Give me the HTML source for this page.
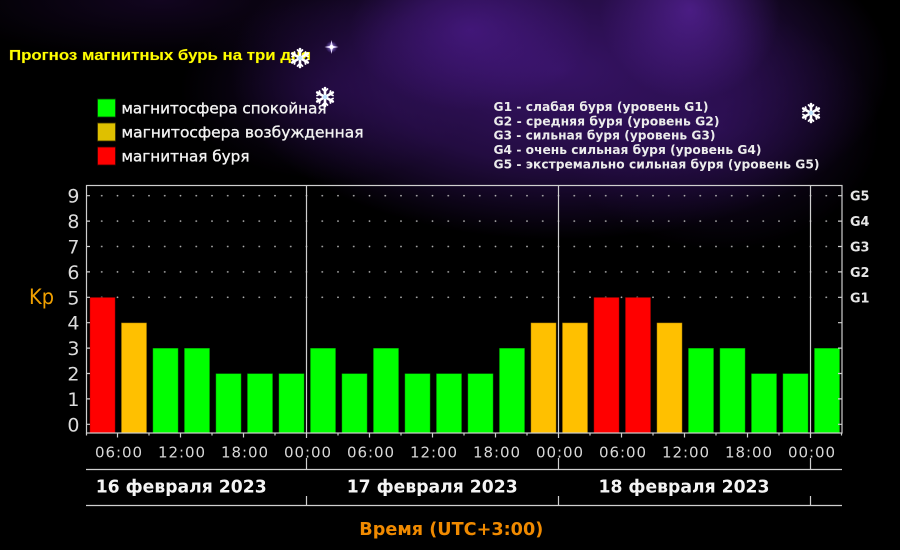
<!DOCTYPE html>
<html>
<head>
<meta charset="utf-8">
<style>
html,body{margin:0;padding:0;background:#000;}
#wrap{position:relative;width:900px;height:550px;overflow:hidden;background:#000;}
#neb{position:absolute;left:0;top:0;width:900px;height:550px;
background:
radial-gradient(ellipse 90px 90px at 690px 10px, rgba(100,40,175,0.6), rgba(100,40,175,0) 100%),
radial-gradient(ellipse 120px 80px at 470px 30px, rgba(85,30,155,0.55), rgba(85,30,155,0) 100%),
radial-gradient(ellipse 330px 170px at 560px 70px, rgba(58,20,108,0.95), rgba(58,20,108,0.6) 55%, rgba(58,20,108,0) 100%),
radial-gradient(ellipse 160px 120px at 720px 130px, rgba(45,15,85,0.6), rgba(45,15,85,0) 100%),
radial-gradient(ellipse 150px 90px at 330px 90px, rgba(40,12,75,0.55), rgba(40,12,75,0) 100%),
radial-gradient(ellipse 220px 60px at 160px 0px, rgba(40,12,70,0.45), rgba(40,12,70,0) 100%);
}
svg{position:absolute;left:0;top:0;}
</style>
</head>
<body>
<div id="wrap">
<div id="neb"></div>
<svg width="900" height="550" viewBox="0 0 900 550" xmlns="http://www.w3.org/2000/svg">
<defs>
<pattern id="dots" patternUnits="userSpaceOnUse" x="78.125" y="183" width="15.75" height="25.4">
<circle cx="7.875" cy="12.7" r="0.9" fill="#b0b0b0"/>
</pattern>
<radialGradient id="glow">
<stop offset="0" stop-color="#d8c8ff" stop-opacity="0.9"/>
<stop offset="1" stop-color="#8060ff" stop-opacity="0"/>
</radialGradient>
<g id="flake" stroke="#fff" stroke-width="2.6" stroke-linecap="round" fill="none">
<line x1="0" y1="-9" x2="0" y2="9"/>
<line x1="-7.8" y1="-4.5" x2="7.8" y2="4.5"/>
<line x1="-7.8" y1="4.5" x2="7.8" y2="-4.5"/>
<path d="M-2.5,-8 L0,-5.5 L2.5,-8 M-2.5,8 L0,5.5 L2.5,8" stroke-width="1.8"/>
<path d="M-8,-1.5 L-5,-3 L-5.5,-6 M8,1.5 L5,3 L5.5,6 M-8,1.5 L-5,3 L-5.5,6 M8,-1.5 L5,-3 L5.5,-6" stroke-width="1.8"/>
<circle cx="0" cy="0" r="2.2" fill="#bfe4ff" stroke="none"/>
</g>
</defs>

<!-- title -->
<text x="9" y="60" font-family="Liberation Sans, sans-serif" font-weight="bold" font-size="15" fill="#ffff00" stroke="#4a3a00" stroke-width="0.6" paint-order="stroke" textLength="302" lengthAdjust="spacingAndGlyphs">Прогноз магнитных бурь на три дня</text>

<!-- star -->
<g transform="translate(331.5,47)">
<circle r="6" fill="url(#glow)"/>
<path d="M0,-7 L1.2,-1.2 L7,0 L1.2,1.2 L0,7 L-1.2,1.2 L-7,0 L-1.2,-1.2 Z" fill="#e8dcff"/>
<circle r="2" fill="#fff"/>
</g>

<!-- legend -->
<rect x="97.5" y="99" width="18" height="18" fill="#00ff00" stroke="#0a3a0a" stroke-width="0.8"/>
<rect x="97.5" y="123" width="18" height="18" fill="#dfc000" stroke="#3a3000" stroke-width="0.8"/>
<rect x="97.5" y="147" width="18" height="18" fill="#ff0000" stroke="#3a0000" stroke-width="0.8"/>
<g font-family="DejaVu Sans, sans-serif" font-size="15.5" fill="#f2f2f2" stroke="#f2f2f2" stroke-width="0.35">
<text x="121.5" y="113.5" textLength="205" lengthAdjust="spacingAndGlyphs">магнитосфера спокойная</text>
<text x="121.5" y="137.5" textLength="242" lengthAdjust="spacingAndGlyphs">магнитосфера возбужденная</text>
<text x="121.5" y="161.5" textLength="128" lengthAdjust="spacingAndGlyphs">магнитная буря</text>
</g>

<!-- G list -->
<g font-family="DejaVu Sans, sans-serif" font-weight="bold" font-size="12" fill="#ececec">
<text x="493.5" y="111" textLength="215" lengthAdjust="spacingAndGlyphs">G1 - слабая буря (уровень G1)</text>
<text x="493.5" y="125.3" textLength="226" lengthAdjust="spacingAndGlyphs">G2 - средняя буря (уровень G2)</text>
<text x="493.5" y="139.6" textLength="222" lengthAdjust="spacingAndGlyphs">G3 - сильная буря (уровень G3)</text>
<text x="493.5" y="154" textLength="268" lengthAdjust="spacingAndGlyphs">G4 - очень сильная буря (уровень G4)</text>
<text x="493.5" y="168.5" textLength="326" lengthAdjust="spacingAndGlyphs">G5 - экстремально сильная буря (уровень G5)</text>
</g>

<!-- snowflakes -->
<use href="#flake" transform="translate(300,58)"/>
<use href="#flake" transform="translate(325,97)"/>
<use href="#flake" transform="translate(811,113)"/>

<!-- dotted grid -->
<rect x="94" y="190" width="745" height="112" fill="url(#dots)"/>

<!-- bars -->
<g stroke="rgba(0,0,0,0.35)" stroke-width="1">
<rect x="89.75" y="297.3" width="25.5" height="135.7" fill="#ff0000"/>
<rect x="121.25" y="322.7" width="25.5" height="110.3" fill="#ffc000"/>
<rect x="152.75" y="348.1" width="25.5" height="84.9" fill="#00ff00"/>
<rect x="184.25" y="348.1" width="25.5" height="84.9" fill="#00ff00"/>
<rect x="215.75" y="373.5" width="25.5" height="59.5" fill="#00ff00"/>
<rect x="247.25" y="373.5" width="25.5" height="59.5" fill="#00ff00"/>
<rect x="278.75" y="373.5" width="25.5" height="59.5" fill="#00ff00"/>

<rect x="310.25" y="348.1" width="25.5" height="84.9" fill="#00ff00"/>
<rect x="341.75" y="373.5" width="25.5" height="59.5" fill="#00ff00"/>
<rect x="373.25" y="348.1" width="25.5" height="84.9" fill="#00ff00"/>
<rect x="404.75" y="373.5" width="25.5" height="59.5" fill="#00ff00"/>
<rect x="436.25" y="373.5" width="25.5" height="59.5" fill="#00ff00"/>
<rect x="467.75" y="373.5" width="25.5" height="59.5" fill="#00ff00"/>
<rect x="499.25" y="348.1" width="25.5" height="84.9" fill="#00ff00"/>
<rect x="530.75" y="322.7" width="25.5" height="110.3" fill="#ffc000"/>

<rect x="562.25" y="322.7" width="25.5" height="110.3" fill="#ffc000"/>
<rect x="593.75" y="297.3" width="25.5" height="135.7" fill="#ff0000"/>
<rect x="625.25" y="297.3" width="25.5" height="135.7" fill="#ff0000"/>
<rect x="656.75" y="322.7" width="25.5" height="110.3" fill="#ffc000"/>
<rect x="688.25" y="348.1" width="25.5" height="84.9" fill="#00ff00"/>
<rect x="719.75" y="348.1" width="25.5" height="84.9" fill="#00ff00"/>
<rect x="751.25" y="373.5" width="25.5" height="59.5" fill="#00ff00"/>
<rect x="782.75" y="373.5" width="25.5" height="59.5" fill="#00ff00"/>

<rect x="814.25" y="348.1" width="25.5" height="84.9" fill="#00ff00"/>
</g>

<!-- frame and dividers -->
<g stroke="#cfcfcf" stroke-width="1.2" fill="none">
<rect x="86.5" y="185.5" width="755.5" height="247.5"/>
<line x1="306.5" y1="185" x2="306.5" y2="438"/>
<line x1="558.5" y1="185" x2="558.5" y2="438"/>
<line x1="810.5" y1="185" x2="810.5" y2="438"/>
<path d="M86,424.3h4M86,398.9h4M86,373.5h4M86,348.1h4M86,322.7h4M86,297.3h4M86,271.9h4M86,246.5h4M86,221.1h4M86,195.7h4"/>
<path d="M842,424.3h-4M842,398.9h-4M842,373.5h-4M842,348.1h-4M842,322.7h-4M842,297.3h-4M842,271.9h-4M842,246.5h-4M842,221.1h-4M842,195.7h-4"/>
<path d="M117.5,433v4.5M180.5,433v4.5M243.5,433v4.5M369.5,433v4.5M432.5,433v4.5M495.5,433v4.5M621.5,433v4.5M684.5,433v4.5M747.5,433v4.5"/>
<path d="M86.5,433v2.5M149,433v2.5M212,433v2.5M275,433v2.5M338,433v2.5M401,433v2.5M464,433v2.5M527,433v2.5M590,433v2.5M653,433v2.5M716,433v2.5M779,433v2.5M841.5,433v2.5"/>
<path d="M306.5,458v11.5M558.5,458v11.5M810.5,458v11.5M306.5,496v10M558.5,496v10M810.5,496v10"/>
<line x1="86" y1="469.5" x2="842" y2="469.5"/>
<line x1="86" y1="505.5" x2="842" y2="505.5"/>
</g>

<!-- y labels -->
<g font-family="DejaVu Sans, sans-serif" font-size="19" fill="#dcdcdc" text-anchor="end">
<text x="79.5" y="431.3">0</text>
<text x="79.5" y="405.9">1</text>
<text x="79.5" y="380.5">2</text>
<text x="79.5" y="355.1">3</text>
<text x="79.5" y="329.7">4</text>
<text x="79.5" y="304.3">5</text>
<text x="79.5" y="278.9">6</text>
<text x="79.5" y="253.5">7</text>
<text x="79.5" y="228.1">8</text>
<text x="79.5" y="202.7">9</text>
</g>
<text x="29" y="304" font-family="DejaVu Sans, sans-serif" font-size="21" fill="#f0a000" textLength="25" lengthAdjust="spacingAndGlyphs">Kp</text>

<!-- G right labels -->
<g font-family="DejaVu Sans, sans-serif" font-weight="bold" font-size="13" fill="#e6e6e6">
<text x="850" y="200.7" textLength="19.5" lengthAdjust="spacingAndGlyphs">G5</text>
<text x="850" y="226.1" textLength="19.5" lengthAdjust="spacingAndGlyphs">G4</text>
<text x="850" y="251.5" textLength="19.5" lengthAdjust="spacingAndGlyphs">G3</text>
<text x="850" y="276.9" textLength="19.5" lengthAdjust="spacingAndGlyphs">G2</text>
<text x="850" y="302.3" textLength="19.5" lengthAdjust="spacingAndGlyphs">G1</text>
</g>

<!-- time labels -->
<g font-family="DejaVu Sans, sans-serif" font-size="15" fill="#d8d8d8" text-anchor="middle">
<text x="118.5" y="457.5" textLength="47" lengthAdjust="spacing">06:00</text>
<text x="181.5" y="457.5" textLength="47" lengthAdjust="spacing">12:00</text>
<text x="244.5" y="457.5" textLength="47" lengthAdjust="spacing">18:00</text>
<text x="307.5" y="457.5" textLength="47" lengthAdjust="spacing">00:00</text>
<text x="370.5" y="457.5" textLength="47" lengthAdjust="spacing">06:00</text>
<text x="433.5" y="457.5" textLength="47" lengthAdjust="spacing">12:00</text>
<text x="496.5" y="457.5" textLength="47" lengthAdjust="spacing">18:00</text>
<text x="559.5" y="457.5" textLength="47" lengthAdjust="spacing">00:00</text>
<text x="622.5" y="457.5" textLength="47" lengthAdjust="spacing">06:00</text>
<text x="685.5" y="457.5" textLength="47" lengthAdjust="spacing">12:00</text>
<text x="748.5" y="457.5" textLength="47" lengthAdjust="spacing">18:00</text>
<text x="811.5" y="457.5" textLength="47" lengthAdjust="spacing">00:00</text>
</g>

<!-- date labels -->
<g font-family="DejaVu Sans, sans-serif" font-weight="bold" font-size="17.5" fill="#f4f4f4">
<text x="95.7" y="492.5" textLength="171" lengthAdjust="spacingAndGlyphs">16 февраля 2023</text>
<text x="346.7" y="492.5" textLength="171" lengthAdjust="spacingAndGlyphs">17 февраля 2023</text>
<text x="598.5" y="492.5" textLength="171" lengthAdjust="spacingAndGlyphs">18 февраля 2023</text>
</g>

<text x="359.3" y="535" font-family="DejaVu Sans, sans-serif" font-weight="bold" font-size="17.5" fill="#f08a00" textLength="184" lengthAdjust="spacingAndGlyphs">Время (UTC+3:00)</text>
</svg>
</div>
</body>
</html>
